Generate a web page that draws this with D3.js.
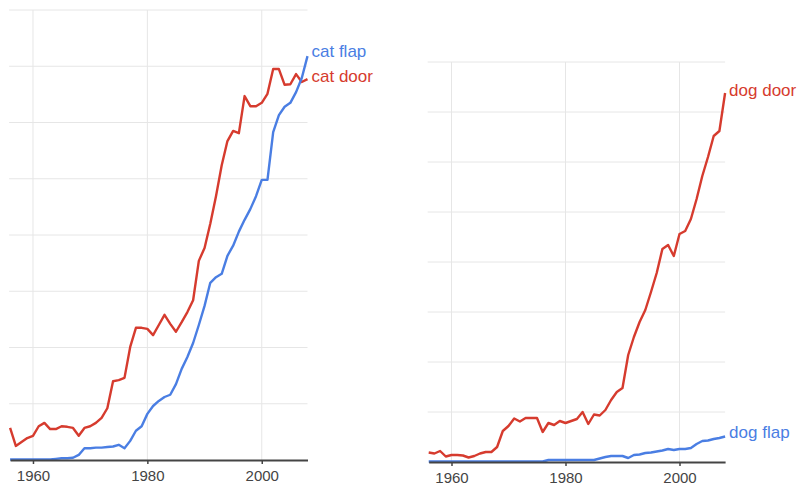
<!DOCTYPE html>
<html>
<head>
<meta charset="utf-8">
<script src="https://cdn.jsdelivr.net/npm/d3@7"></script>
<style>
  html, body { margin: 0; padding: 0; background: #fff; }
  svg { display: block; font-family: "Liberation Sans", Arial, sans-serif; }
</style>
</head>
<body>
<svg id="chart" width="800" height="488"></svg>
<script>
// ---- data ----
const years = d3.range(1956, 2009);
const xTicks = [1960, 1980, 2000];
const yTicks = [0, 1, 2, 3, 4, 5, 6, 7, 8];

const catDoor = [0.57,0.25,0.32,0.39,0.43,0.60,0.66,0.55,0.55,0.60,0.59,0.57,0.43,0.57,0.60,0.66,0.75,0.92,1.40,1.42,
  1.46,2.01,2.35,2.35,2.33,2.22,2.40,2.58,2.42,2.28,2.45,2.63,2.84,3.54,3.77,4.20,4.69,5.24,5.67,5.85,
  5.81,6.47,6.29,6.29,6.35,6.51,6.95,6.95,6.67,6.68,6.86,6.72,6.77];
const catFlap = [0.01,0.01,0.01,0.01,0.01,0.01,0.01,0.01,0.02,0.03,0.03,0.04,0.09,0.21,0.21,0.22,0.22,0.23,0.24,0.27,
  0.21,0.34,0.52,0.60,0.82,0.96,1.05,1.12,1.16,1.35,1.62,1.83,2.08,2.40,2.74,3.15,3.25,3.31,3.63,3.81,
  4.06,4.27,4.46,4.69,4.98,4.98,5.83,6.13,6.28,6.35,6.54,6.79,7.18];
const dogDoor = [0.19,0.17,0.22,0.11,0.14,0.14,0.13,0.09,0.12,0.17,0.20,0.20,0.30,0.62,0.72,0.87,0.81,0.88,0.88,0.88,
  0.60,0.78,0.74,0.82,0.78,0.82,0.86,1.00,0.76,0.95,0.93,1.04,1.24,1.40,1.48,2.14,2.50,2.80,3.04,3.40,
  3.78,4.26,4.34,4.12,4.56,4.62,4.86,5.26,5.72,6.10,6.52,6.62,7.38];
const dogFlap = [0.01,0.01,0.01,0.01,0.01,0.01,0.01,0.01,0.01,0.01,0.01,0.01,0.01,0.01,0.01,0.01,0.01,0.01,0.01,0.01,
  0.01,0.04,0.04,0.04,0.04,0.04,0.04,0.04,0.04,0.04,0.07,0.10,0.12,0.12,0.12,0.08,0.14,0.15,0.18,0.19,
  0.21,0.23,0.26,0.24,0.26,0.26,0.28,0.36,0.42,0.43,0.46,0.48,0.51];

const panels = [
  { series: [{ name: "cat door", values: catDoor, color: "#d63b2e", dy: -3 },
             { name: "cat flap", values: catFlap, color: "#4a7ee3", dy: -5 }],
    xr: [10.1, 307.5], yr: [460, 10] },
  { series: [{ name: "dog door", values: dogDoor, color: "#d63b2e", dy: -3 },
             { name: "dog flap", values: dogFlap, color: "#4a7ee3", dy: -4 }],
    xr: [428.7, 725.1], yr: [462, 62] }
];

const svg = d3.select("#chart");

panels.forEach(p => {
  const x = d3.scaleLinear().domain([1956, 2008]).range(p.xr);
  const y = d3.scaleLinear().domain([0, 8]).range(p.yr);
  const g = svg.append("g");

  // horizontal grid
  g.selectAll("line.hg").data(yTicks.slice(1)).join("line")
    .attr("x1", p.xr[0] - 1).attr("x2", p.xr[1])
    .attr("y1", d => y(d)).attr("y2", d => y(d))
    .attr("stroke", "#e6e6e6").attr("stroke-width", 1);
  // vertical grid
  g.selectAll("line.vg").data(xTicks).join("line")
    .attr("x1", d => x(d)).attr("x2", d => x(d))
    .attr("y1", y(8)).attr("y2", y(0))
    .attr("stroke", "#e6e6e6").attr("stroke-width", 1);

  // lines
  const line = d3.line().x((d, i) => x(years[i])).y(d => y(d));
  p.series.forEach(s => {
    g.append("path").datum(s.values)
      .attr("fill", "none").attr("stroke", s.color)
      .attr("stroke-width", 2.4).attr("stroke-linejoin", "round")
      .attr("d", line);
  });

  // axis
  const ax = g.append("g").attr("transform", `translate(0,${y(0)})`)
    .call(d3.axisBottom(x).tickValues(xTicks).tickFormat(d3.format("d")).tickSize(4).tickSizeOuter(0));
  ax.select(".domain").attr("stroke", "#444").attr("stroke-width", 2);
  ax.selectAll(".tick line").attr("stroke", "#444").attr("stroke-width", 1.5);
  ax.selectAll(".tick text").attr("fill", "#444").attr("font-size", 15)
    .attr("font-family", "'Liberation Sans', Arial, sans-serif").attr("y", 10);

  // labels
  p.series.forEach(s => {
    const last = s.values[s.values.length - 1];
    g.append("text")
      .attr("x", x(2008) + 4).attr("y", y(last) + s.dy)
      .attr("dy", "0.35em")
      .attr("fill", s.color).attr("font-size", 17)
      .text(s.name);
  });
});
</script>
</body>
</html>
